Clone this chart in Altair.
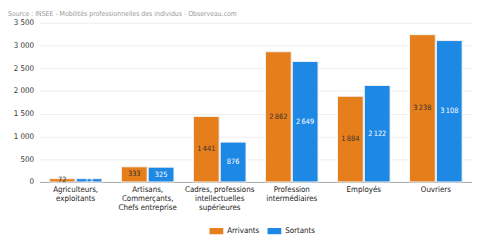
import altair as alt
import pandas as pd

categories = [
    "Agriculteurs,|exploitants",
    "Artisans,|Commerçants,|Chefs entreprise",
    "Cadres, professions|intellectuelles|supérieures",
    "Profession|intermédiaires",
    "Employés",
    "Ouvriers",
]
series = ["Arrivants", "Sortants"]
arrivants = [72, 333, 1441, 2862, 1884, 3238]
sortants = [73, 325, 876, 2649, 2122, 3108]
colors = ["#E67E1B", "#1E88E5"]
y_ticks = [0, 500, 1000, 1500, 2000, 2500, 3000, 3500]

rows = []
for cat, a, s in zip(categories, arrivants, sortants):
    for name, v in ((series[0], a), (series[1], s)):
        rows.append({"cat": cat, "serie": name, "val": v,
                     "lbl": f"{v:,}".replace(",", "\u202f")})
df = pd.DataFrame(rows)

FONT = "DejaVu Sans Condensed"

y_axis = alt.Axis(values=y_ticks, labelExpr="replace(format(datum.value, ','), ',', ' ')",
                  labelFontSize=8, labelColor="#333", labelFont=FONT,
                  labelOverlap=False, tickCount=8,
                  ticks=False, domain=False, gridColor="#eeeeee",
                  labelPadding=6, minExtent=32, maxExtent=32)
y_scale = alt.Scale(domain=[0, 3500], nice=False)

base = alt.Chart(df).encode(
    x=alt.X("cat:N", sort=categories, title=None,
            scale=alt.Scale(paddingInner=0.27, paddingOuter=0.137),
            axis=alt.Axis(labelExpr="split(datum.label, '|')", labelAngle=0,
                          labelFontSize=8, labelLineHeight=9, labelColor="#222",
                          labelFont=FONT, ticks=False, domainColor="#aaaaaa",
                          labelPadding=4, grid=False)),
    xOffset=alt.XOffset("serie:N", sort=series, scale=alt.Scale(paddingInner=0.04)),
)

bars = base.mark_bar(stroke="#f2f2f2", strokeWidth=1).encode(
    y=alt.Y("val:Q", title=None, scale=y_scale, axis=y_axis),
    color=alt.Color("serie:N", sort=series,
                    scale=alt.Scale(domain=series, range=colors),
                    legend=alt.Legend(title=None, orient="none", direction="horizontal",
                                      legendX=173, legendY=205,
                                      symbolType="M-1,-0.45 H1 V0.45 H-1 Z",
                                      symbolSize=196, symbolStrokeWidth=0,
                                      labelFontSize=8, labelFont=FONT, labelColor="#222",
                                      columnPadding=8, labelOffset=4)),
)

text = base.mark_text(fontSize=7.5, font=FONT).transform_calculate(
    mid="datum.val / 2"
).encode(
    y=alt.Y("mid:Q", title=None, scale=y_scale, axis=y_axis),
    text="lbl:N",
    color=alt.condition(alt.datum.serie == "Sortants", alt.value("#ffffff"), alt.value("#333333")),
)

chart = alt.layer(bars, text).properties(
    width=440, height=162,
    padding={"left": 0, "top": 0, "right": 0, "bottom": 0},
    title=alt.Title("Source : INSEE - Mobilités professionnelles des individus - Observeau.com",
                    fontSize=7, color="#999999", font=FONT, fontWeight="normal",
                    anchor="start", frame="bounds", offset=2),
).configure_view(stroke=None)

chart.save("out.html", embed_options={"renderer": "svg", "actions": False})
